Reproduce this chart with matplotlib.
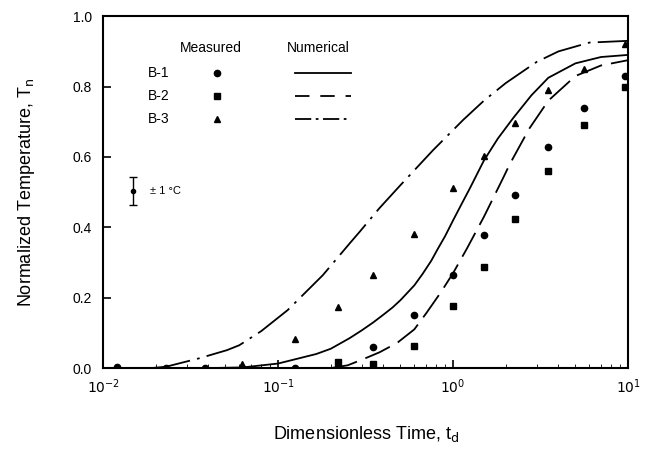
import numpy as np
import matplotlib
matplotlib.use('Agg')
from matplotlib import pyplot as plt

plt.rcParams['font.family'] = ['Liberation Sans', 'DejaVu Sans']

t_b1 = [0.012, 0.023, 0.038, 0.062, 0.125, 0.22, 0.35, 0.6, 1.0, 1.5, 2.25, 3.5, 5.6, 9.6]
T_b1 = [0.002, 0.0, 0.0, 0.0, 0.0, 0.004, 0.059, 0.152, 0.264, 0.378, 0.492, 0.628, 0.74, 0.83]
t_b2 = [0.22, 0.35, 0.6, 1.0, 1.5, 2.25, 3.5, 5.6, 9.6]
T_b2 = [0.016, 0.011, 0.063, 0.176, 0.287, 0.423, 0.56, 0.69, 0.80]
t_b3 = [0.062, 0.125, 0.22, 0.35, 0.6, 1.0, 1.5, 2.25, 3.5, 5.6, 9.6]
T_b3 = [0.012, 0.082, 0.173, 0.265, 0.38, 0.513, 0.602, 0.697, 0.79, 0.85, 0.92]

# numerical curves
tn_b1 = [0.02, 0.04, 0.063, 0.1, 0.165, 0.2, 0.256, 0.3, 0.35, 0.4, 0.45, 0.5, 0.6, 0.67, 0.75, 0.82, 0.9, 1.0, 1.12, 1.25, 1.5, 1.8, 2.2, 2.8, 3.5, 5.0, 7.0, 10.0]
Tn_b1 = [0.0, 0.0, 0.002, 0.013, 0.04, 0.055, 0.085, 0.107, 0.13, 0.152, 0.172, 0.193, 0.235, 0.268, 0.305, 0.34, 0.375, 0.42, 0.467, 0.512, 0.59, 0.652, 0.71, 0.775, 0.825, 0.866, 0.884, 0.89]
tn_b2 = [0.2, 0.25, 0.305, 0.38, 0.48, 0.6, 0.7, 0.85, 1.0, 1.2, 1.5, 1.93, 2.11, 2.72, 3.5, 5.0, 7.0, 10.0]
Tn_b2 = [0.0, 0.008, 0.025, 0.045, 0.072, 0.11, 0.155, 0.215, 0.27, 0.34, 0.43, 0.54, 0.58, 0.68, 0.76, 0.83, 0.86, 0.875]
tn_b3 = [0.0188, 0.0229, 0.0355, 0.051, 0.06, 0.08, 0.1135, 0.18, 0.256, 0.292, 0.38, 0.494, 0.767, 1.14, 1.5, 2.0, 3.0, 4.0, 6.0, 10.0]
Tn_b3 = [0.0, 0.004, 0.028, 0.051, 0.065, 0.105, 0.165, 0.264, 0.354, 0.387, 0.455, 0.517, 0.619, 0.705, 0.76, 0.81, 0.87, 0.90, 0.925, 0.93]

names = ['B-1', 'B-2', 'B-3']
markers = ['o', 's', '^']
styles = ['-', (0, (15, 5)), (0, (22, 4, 1.5, 4))]

fig = plt.figure(figsize=(6.57, 4.5), dpi=100)
ax = fig.add_axes([0.157, 0.182, 0.799, 0.782])

ax.plot(tn_b1, Tn_b1, color='k', lw=1.3, ls=styles[0])
ax.plot(tn_b2, Tn_b2, color='k', lw=1.3, ls=styles[1])
ax.plot(tn_b3, Tn_b3, color='k', lw=1.3, ls=styles[2])
ax.plot(t_b1, T_b1, 'o', color='k', ms=4.5, ls='none')
ax.plot(t_b2, T_b2, 's', color='k', ms=4.2, ls='none')
ax.plot(t_b3, T_b3, '^', color='k', ms=4.8, ls='none')

# hand drawn legend
ax.text(0.041, 0.909, 'Measured', ha='center', va='center', fontsize=10)
ax.text(0.170, 0.909, 'Numerical', ha='center', va='center', fontsize=10)
leg_y = [0.838, 0.773, 0.707]
leg_styles = ['-', (0, (8, 6)), (0, (9, 2.5, 1.5, 2.5))]
for i in range(3):
    ax.text(0.0181, leg_y[i], names[i], ha='left', va='center', fontsize=10)
    ax.plot([0.045], [leg_y[i]], markers[i], color='k', ms=4.5)
    ax.plot([0.1256, 0.2595], [leg_y[i], leg_y[i]], color='k', lw=1.3, ls=leg_styles[i])

# error bar
ax.errorbar([0.0148], [0.503], yerr=0.04, fmt='o', color='k', ms=3, capsize=3, lw=1)
ax.text(0.0185, 0.503, '\u00b1 1 \u00b0C', ha='left', va='center', fontsize=8)

ax.set_xscale('log')
ax.set_xlim(0.01, 10)
ax.set_ylim(0, 1.0)
ax.set_yticks([0.0, 0.2, 0.4, 0.6, 0.8, 1.0])
ax.set_yticklabels(['0.0', '0.2', '0.4', '0.6', '0.8', '1.0'])
ax.set_xticks([0.01, 0.1, 1, 10])
ax.set_xticklabels(['$10^{-2}$', '$10^{-1}$', '$10^{0}$', '$10^{1}$'])
ax.tick_params(direction='in', labelsize=10, width=1.2, length=6)
ax.tick_params(axis='x', pad=7)
ax.tick_params(axis='y', pad=8)
ax.tick_params(which='minor', direction='in', length=3)
for s in ax.spines.values():
    s.set_linewidth(1.5)

ax.set_xlabel('Dimensionless Time, t$_\\mathrm{d}$', fontsize=13, labelpad=20)
ax.set_ylabel('Normalized Temperature, T$_\\mathrm{n}$', fontsize=13, labelpad=26)

fig.savefig('out.png', dpi=100)
